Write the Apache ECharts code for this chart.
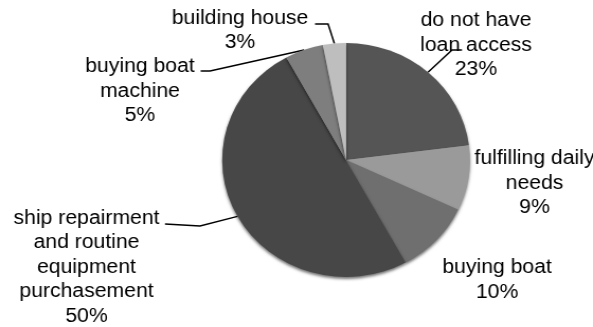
<!DOCTYPE html>
<html>
<head>
<meta charset="utf-8">
<script src="https://cdn.jsdelivr.net/npm/echarts@6/dist/echarts.min.js"></script>
<style>
  html, body { margin: 0; padding: 0; background: #fff; overflow: hidden; }
  #wrap { width: 593px; height: 327px; overflow: hidden; }
  /* chart is drawn slightly narrower and widened horizontally */
  #chart { width: 560px; height: 327px; transform-origin: 0 0; transform: scaleX(1.0589); }
</style>
</head>
<body>
<div id="wrap"><div id="chart"></div></div>
<script>
// Uses of the loan, share of respondents (%)
const categories = [
  'do not have\nloan access',
  'fulfilling daily\nneeds',
  'buying boat',
  'ship repairment\nand routine\nequipment\npurchasement',
  'buying boat\nmachine',
  'building house'
];
const shares = [23, 9, 10, 50, 5, 3];

const sliceColors = ['#555555', '#9a9a9a', '#6f6f6f', '#474747', '#7e7e7e', '#bebebe'];

// label anchor (centre of text block) and leader-line bends, in chart pixels
const labelSpots = [
  { x: 449.5, y: 45,  line: [[426.9, 50], [436.3, 50]] },
  { x: 504.8, y: 183, line: null },
  { x: 469.4, y: 280, line: null },
  { x: 81.7,  y: 267, line: [[188.9, 226], [155.8, 224]] },
  { x: 132.2, y: 91,  line: [[198.3, 71], [189.5, 71]] },
  { x: 226.7, y: 30.5, line: [[309.8, 24], [297.5, 24]] }
];

const chart = echarts.init(document.getElementById('chart'), null, { renderer: 'canvas' });

chart.setOption({
  animation: false,
  backgroundColor: '#ffffff',
  series: [{
    type: 'pie',
    center: [326.8, 160],
    radius: [0, 117],
    startAngle: 90,
    clockwise: true,
    avoidLabelOverlap: false,
    emphasis: { disabled: true },
    data: categories.map((name, i) => ({
      name: name,
      value: shares[i],
      itemStyle: { color: sliceColors[i] }
    })),
    itemStyle: {
      borderWidth: 0,
      shadowBlur: 3,
      shadowOffsetY: 2,
      shadowColor: 'rgba(0,0,0,0.55)'
    },
    label: {
      show: true,
      position: 'outside',
      formatter: p => p.name + '\n' + p.value + '%',
      fontFamily: '"Liberation Sans", Arial, sans-serif',
      fontSize: 20,
      lineHeight: 24.5,
      color: '#000000',
      align: 'center'
    },
    labelLine: {
      show: true,
      lineStyle: { color: '#000000', width: 1.5 }
    },
    labelLayout: function (params) {
      const spot = labelSpots[params.dataIndex];
      const out = { x: spot.x, y: spot.y, align: 'center', verticalAlign: 'middle' };
      const edge = params.labelLinePoints ? params.labelLinePoints[0] : null;
      if (spot.line && edge) {
        out.labelLinePoints = [edge, spot.line[0], spot.line[1]];
      } else if (edge) {
        out.labelLinePoints = [edge, edge, edge];
      }
      return out;
    }
  }]
});
</script>
</body>
</html>
